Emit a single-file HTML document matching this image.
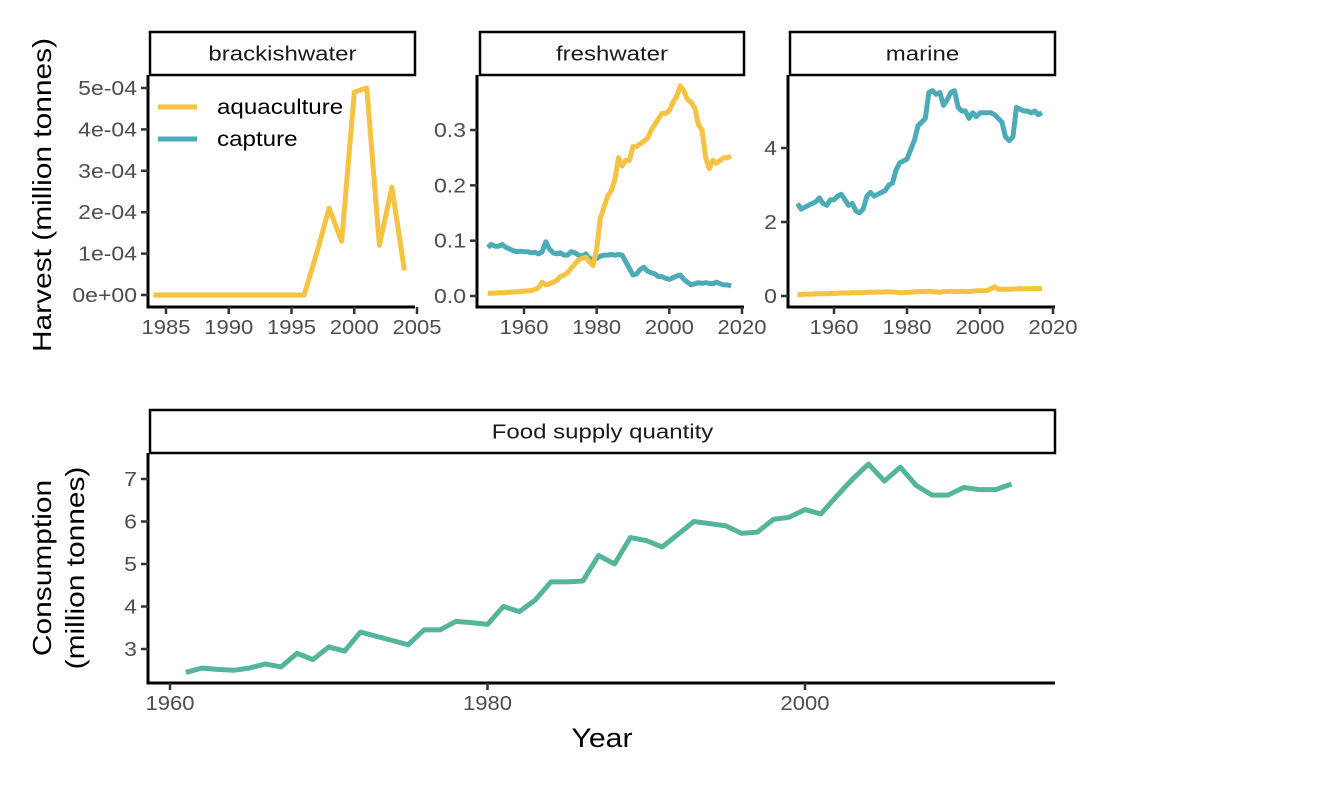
<!DOCTYPE html>
<html><head><meta charset="utf-8"><style>
body{margin:0;background:#fff;}
svg{display:block;font-family:"Liberation Sans",sans-serif;}
</style></head><body>
<svg id="c" width="1338" height="785" viewBox="0 0 1338 785"></svg>
<script>
const brackYears=[1984,1985,1986,1987,1988,1989,1990,1991,1992,1993,1994,1995,1996,1997,1998,1999,2000,2001,2002,2003,2004];
const brackAqua=[0,0,0,0,0,0,0,0,0,0,0,0,0,1.0e-4,2.1e-4,1.3e-4,4.9e-4,5.0e-4,1.2e-4,2.6e-4,0.6e-4];
const fwYears=[];for(let y=1950;y<=2017;y++)fwYears.push(y);
const fwAqua=[0.005,0.005,0.005,0.006,0.006,0.006,0.007,0.007,0.008,0.008,0.009,0.009,0.01,0.012,0.015,0.025,0.02,0.022,0.025,0.028,0.035,0.038,0.042,0.05,0.058,0.065,0.068,0.07,0.062,0.055,0.085,0.14,0.16,0.18,0.19,0.21,0.25,0.235,0.245,0.245,0.27,0.27,0.275,0.28,0.285,0.3,0.31,0.32,0.33,0.33,0.335,0.35,0.36,0.38,0.37,0.355,0.35,0.34,0.31,0.3,0.25,0.23,0.245,0.24,0.245,0.25,0.25,0.253];
const fwCap=[0.088,0.093,0.09,0.09,0.093,0.088,0.085,0.082,0.08,0.081,0.08,0.08,0.078,0.079,0.076,0.08,0.098,0.085,0.078,0.076,0.078,0.074,0.074,0.08,0.078,0.074,0.072,0.076,0.068,0.066,0.068,0.072,0.074,0.074,0.075,0.074,0.075,0.074,0.062,0.05,0.038,0.04,0.048,0.052,0.045,0.042,0.04,0.035,0.035,0.032,0.03,0.033,0.036,0.038,0.03,0.025,0.02,0.022,0.024,0.023,0.024,0.023,0.022,0.025,0.022,0.02,0.02,0.018];
const marCap=[2.5,2.35,2.4,2.45,2.5,2.55,2.65,2.5,2.45,2.6,2.6,2.7,2.75,2.6,2.45,2.5,2.3,2.25,2.35,2.7,2.8,2.7,2.75,2.8,2.85,3.0,3.05,3.4,3.6,3.65,3.7,3.95,4.2,4.6,4.7,4.8,5.5,5.55,5.45,5.5,5.15,5.3,5.5,5.55,5.1,5.0,5.0,4.8,4.95,4.85,4.95,4.95,4.95,4.95,4.9,4.8,4.7,4.3,4.2,4.3,5.1,5.05,5.0,5.0,4.95,5.0,4.9,4.95];
const marAqua=[0.03,0.04,0.05,0.05,0.05,0.06,0.06,0.06,0.06,0.07,0.07,0.07,0.08,0.08,0.08,0.09,0.09,0.09,0.09,0.1,0.1,0.1,0.11,0.1,0.11,0.11,0.11,0.1,0.09,0.09,0.1,0.1,0.11,0.12,0.12,0.12,0.13,0.12,0.11,0.1,0.12,0.12,0.13,0.12,0.12,0.13,0.12,0.12,0.13,0.14,0.14,0.14,0.15,0.2,0.25,0.18,0.18,0.18,0.18,0.19,0.19,0.2,0.19,0.2,0.2,0.2,0.2,0.2];
const foodYears=[];for(let y=1961;y<=2013;y++)foodYears.push(y);
const foodVals=[2.45,2.55,2.52,2.5,2.55,2.65,2.58,2.9,2.75,3.05,2.95,3.4,3.3,3.2,3.1,3.45,3.45,3.65,3.62,3.58,4.0,3.88,4.15,4.58,4.58,4.6,5.2,5.0,5.62,5.55,5.4,5.7,6.0,5.95,5.9,5.72,5.75,6.05,6.1,6.28,6.18,6.6,7.0,7.35,6.95,7.28,6.85,6.62,6.62,6.8,6.75,6.75,6.88];
const brackTicks=["0e+00","1e-04","2e-04","3e-04","4e-04","5e-04"];

const NS="http://www.w3.org/2000/svg";const svg=document.getElementById('c');
function el(t,a,p){const e=document.createElementNS(NS,t);for(const k in a)e.setAttribute(k,a[k]);(p||svg).appendChild(e);return e;}
function txt(s,a,p,stretch){const e=el('text',a,p);e.textContent=s;
 if(stretch){const w=e.getComputedTextLength();if(w>0){e.setAttribute('textLength',(w*stretch).toFixed(1));e.setAttribute('lengthAdjust','spacingAndGlyphs');}}
 return e;}
const YEL="#F5C242",TEAL="#4BABB8",GRN="#55B59A";

function panel(o){
 const g=el('g',{});
 const sx=v=>o.x0+(v-o.xa)/(o.xb-o.xa)*(o.x1-o.x0);
 const sy=v=>o.y0+(v-o.ya)/(o.yb-o.ya)*(o.y1-o.y0);
 const s=el('rect',{x:o.sx0,y:o.sy0,width:o.sx1-o.sx0,height:o.sy1-o.sy0,fill:'#fff',stroke:'#000','stroke-width':2.5},g);
 
 txt(o.title,{x:(o.sx0+o.sx1)/2,y:(o.sy0+o.sy1)/2+7,'text-anchor':'middle','font-size':20,fill:'#1a1a1a'},g,1.2);
 el('line',{x1:o.ax,y1:o.sy1,x2:o.ax,y2:o.ay+1.5,stroke:'#000','stroke-width':3},g);
 el('line',{x1:o.ax-1.5,y1:o.ay,x2:o.sx1,y2:o.ay,stroke:'#000','stroke-width':3},g);
 o.xt.forEach((v,i)=>{const x=sx(v);el('line',{x1:x,y1:o.ay,x2:x,y2:o.ay+7,stroke:'#333','stroke-width':2.5},g);
  const t=txt(o.xl?o.xl[i]:String(v),{x:x,y:o.ay+27,'text-anchor':'middle','font-size':20,fill:'#4d4d4d'},g,1.1);});
 o.yt.forEach((v,i)=>{const y=sy(v);el('line',{x1:o.ax,y1:y,x2:o.ax-7,y2:y,stroke:'#333','stroke-width':2.5},g);
  const t=txt(o.yl?o.yl[i]:String(v),{x:o.ax-11,y:y+7,'text-anchor':'end','font-size':20,fill:'#4d4d4d'},g,1.15);});
 o.series.forEach(se=>{const d=se.v.map((v,i)=>(i?'L':'M')+sx(se.x[i]).toFixed(1)+','+sy(v).toFixed(1)).join('');
  const p=el('path',{d:d,fill:'none',stroke:se.c,'stroke-width':5,'stroke-linejoin':'round'},g);});
 return g;
}
panel({name:'brackishwater-panel',title:'brackishwater',sx0:150,sx1:415,sy0:32,sy1:75,ax:148,ay:307,
 x0:166,x1:417,xa:1985,xb:2005,y0:295,y1:88,ya:0,yb:5e-4,xt:[1985,1990,1995,2000,2005],yt:[0,1e-4,2e-4,3e-4,4e-4,5e-4],yl:brackTicks,
 series:[{x:brackYears,v:brackAqua,c:YEL,n:'aquaculture-line'}]});
panel({name:'freshwater-panel',title:'freshwater',sx0:480,sx1:744,sy0:32,sy1:75,ax:477,ay:307,
 x0:524,x1:742,xa:1960,xb:2020,y0:296,y1:130,ya:0,yb:0.3,xt:[1960,1980,2000,2020],yt:[0,0.1,0.2,0.3],yl:["0.0","0.1","0.2","0.3"],
 series:[{x:fwYears,v:fwCap,c:TEAL,n:'capture-line'},{x:fwYears,v:fwAqua,c:YEL,n:'aquaculture-line'}]});
panel({name:'marine-panel',title:'marine',sx0:790,sx1:1055,sy0:32,sy1:75,ax:788,ay:307,
 x0:834,x1:1053,xa:1960,xb:2020,y0:296,y1:148,ya:0,yb:4,xt:[1960,1980,2000,2020],yt:[0,2,4],
 series:[{x:fwYears,v:marCap,c:TEAL,n:'capture-line'},{x:fwYears,v:marAqua,c:YEL,n:'aquaculture-line'}]});
panel({name:'food-supply-panel',title:'Food supply quantity',sx0:150,sx1:1055,sy0:410,sy1:453,ax:148,ay:683,
 x0:170,x1:805,xa:1960,xb:2000,y0:649,y1:479,ya:3,yb:7,xt:[1960,1980,2000],yt:[3,4,5,6,7],
 series:[{x:foodYears,v:foodVals,c:GRN,n:'food-supply-line'}]});
const lg=el('g',{});
el('line',{x1:158,y1:107,x2:197,y2:107,stroke:YEL,'stroke-width':5},lg);
txt('aquaculture',{x:217,y:114,'font-size':21,fill:'#000'},lg,1.15);
el('line',{x1:158,y1:139,x2:197,y2:139,stroke:TEAL,'stroke-width':5},lg);
txt('capture',{x:217,y:146,'font-size':21,fill:'#000'},lg,1.15);
let t=txt('Harvest (million tonnes)',{x:0,y:0,'text-anchor':'middle','font-size':26,fill:'#000',transform:'translate(51,195) rotate(-90)'},svg,1.15);

t=txt('Consumption',{x:0,y:0,'text-anchor':'middle','font-size':26,fill:'#000',transform:'translate(51,568) rotate(-90)'},svg,1.15);

t=txt('(million tonnes)',{x:0,y:0,'text-anchor':'middle','font-size':26,fill:'#000',transform:'translate(84,568) rotate(-90)'},svg,1.15);

t=txt('Year',{x:602,y:747,'text-anchor':'middle','font-size':27,fill:'#000'},svg,1.12);

</script>
</body></html>
